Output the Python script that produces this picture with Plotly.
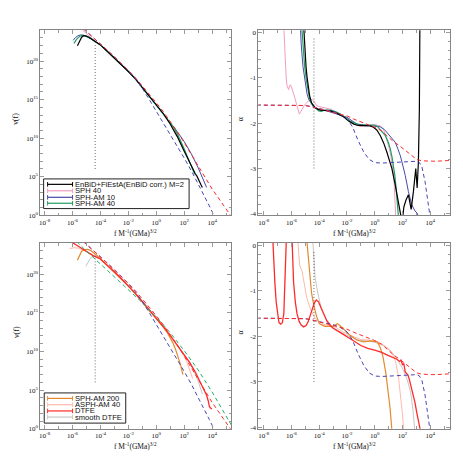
import plotly.graph_objects as go

# ── data (log10 f, log10 nu, alpha) ───────────────────────────────────────────

# model curves (dashed), the same in every panel
LF_RED_DASH = [-5.6, -5.0, -4.5, -4.0, -3.5, -3.0, -2.5, -2.0, -1.5, -1.0, -0.5, 0.0,
               0.5, 1.0, 1.5, 2.0, 2.5, 3.0, 3.5, 4.0, 4.5, 5.0, 5.4, 5.5]
NU_RED_DASH = [24.8, 23.85, 23.05, 22.25, 21.4, 20.55, 19.7, 18.8, 17.85, 16.8, 15.7, 14.6,
               13.45, 12.2, 10.85, 9.4, 7.9, 6.4, 4.9, 3.4, 2.1, 0.8, -0.25, -0.5]
LF_BLUE_DASH = [-5.6, -5.0, -4.5, -4.0, -3.5, -3.0, -2.5, -2.0, -1.5, -1.0, -0.5, 0.0,
                0.5, 1.0, 1.5, 2.0, 2.5, 3.0, 3.5, 3.8, 4.0, 4.2]
NU_BLUE_DASH = [24.8, 23.85, 23.05, 22.25, 21.4, 20.55, 19.7, 18.75, 17.7, 16.45, 15.0, 13.5,
                12.0, 10.5, 9.0, 7.4, 5.8, 4.1, 2.35, 1.2, 0.45, -0.4]

LF_RED_ALPHA = [-8.5, -6.0, -5.0, -4.5, -4.0, -3.5, -3.2, -2.5, -2.0, -1.5, -1.0, -0.5, 0.0,
                0.5, 0.99, 1.4, 1.71, 2.07, 2.43, 2.75, 3.03, 3.4, 3.8, 4.35, 5.0, 5.5]
AL_RED_ALPHA = [-1.6, -1.6, -1.61, -1.64, -1.68, -1.71, -1.73, -1.79, -1.84, -1.91, -1.97, -2.03, -2.09,
                -2.17, -2.31, -2.42, -2.48, -2.57, -2.65, -2.74, -2.8, -2.83, -2.84, -2.84, -2.83, -2.82]
LF_BLUE_ALPHA = [-8.5, -6.0, -5.0, -4.5, -4.0, -3.5, -3.0, -2.5, -2.0, -1.6, -1.2, -0.8, -0.4, 0.0,
                 0.5, 1.0, 2.0, 3.0, 3.2, 3.4, 3.63, 3.87, 4.02, 4.1]
AL_BLUE_ALPHA = [-1.6, -1.6, -1.61, -1.64, -1.68, -1.71, -1.74, -1.8, -1.9, -2.08, -2.38, -2.63, -2.8, -2.87,
                 -2.88, -2.87, -2.85, -2.84, -2.86, -2.96, -3.29, -3.73, -4.02, -4.3]

# vertical dotted marker
DOT_LF = -4.38
DOT_NU = [6.0, 22.4]
DOT_ALPHA = [-3.0, -0.1]

# top row: EnBiD / SPH runs
LF_BLACK_NU = [-5.65, -5.5, -5.35, -5.2, -5.0, -4.8, -4.6, -4.4, -4.0, -3.5, -3.0, -2.5, -2.0, -1.5,
               -1.0, -0.5, 0.0, 0.5, 1.0, 1.5, 2.0, 2.5, 2.6, 2.8, 2.9, 3.0, 3.1, 3.2, 3.3]
NU_BLACK = [22.0, 22.65, 23.1, 23.3, 23.25, 23.05, 22.8, 22.55, 22.1, 21.25, 20.4, 19.55, 18.65, 17.7,
            16.55, 15.5, 14.4, 13.2, 11.8, 10.2, 8.3, 6.4, 6.0, 5.35, 5.1, 4.65, 4.3, 3.95, 3.6]
LF_PINK_NU = [-5.45, -5.2, -5.0, -4.8, -4.6, -4.4, -4.0, -3.5, -3.0, -2.5, -2.0, -1.5, -1.0, -0.5,
              0.0, 0.5, 1.0, 1.25, 1.5, 1.7, 1.85]
NU_PINK = [24.3, 23.9, 23.6, 23.3, 23.0, 22.6, 22.1, 21.25, 20.4, 19.55, 18.65, 17.7, 16.55, 15.5,
           14.4, 13.25, 12.0, 11.35, 10.45, 9.6, 8.9]
LF_BLUE_NU = [-5.95, -5.8, -5.6, -5.4, -5.2, -5.0, -4.7, -4.4, -4.0, -3.5, -3.0, -2.5, -2.0, -1.5,
              -1.0, -0.5, 0.0, 0.5, 1.0, 1.5, 2.0, 2.5, 3.0, 3.3, 3.6]
NU_BLUE = [22.7, 23.05, 23.3, 23.4, 23.35, 23.2, 22.9, 22.55, 22.1, 21.25, 20.4, 19.55, 18.65, 17.7,
           16.55, 15.5, 14.4, 13.25, 12.05, 10.85, 9.55, 8.0, 6.15, 4.9, 3.6]
LF_GREEN_NU = [-5.9, -5.7, -5.5, -5.3, -5.1, -4.9, -4.7, -4.4, -4.0, -3.5, -3.0, -2.5, -2.0, -1.5,
               -1.0, -0.5, 0.0, 0.5, 1.0, 1.25, 1.5, 1.75, 2.0, 2.25, 2.5, 2.75]
NU_GREEN = [22.3, 22.85, 23.2, 23.35, 23.3, 23.15, 22.95, 22.55, 22.1, 21.25, 20.4, 19.55, 18.65, 17.7,
            16.55, 15.5, 14.4, 13.25, 12.05, 11.4, 10.6, 9.65, 8.6, 7.5, 6.4, 5.3]

LF_BLACK_AL = [-5.15, -5.05, -4.95, -4.88, -4.78, -4.69, -4.55, -4.45, -4.3, -4.1, -3.92, -3.6, -3.2,
               -2.8, -2.48, -2.2, -1.88, -1.5, -1.2, -0.8, -0.33, -0.09, 0.15, 0.4, 0.65, 0.88, 1.05,
               1.24, 1.48, 1.71, 1.91, 1.98, 2.1, 2.25, 2.43, 2.55, 2.63, 2.79, 2.96, 3.06, 3.15,
               3.22, 3.26]
AL_BLACK = [0.3, -0.38, -0.75, -0.97, -1.2, -1.4, -1.55, -1.6, -1.66, -1.69, -1.71, -1.72, -1.73,
            -1.77, -1.82, -1.87, -1.95, -2.02, -2.05, -2.06, -2.06, -2.09, -2.15, -2.27, -2.44, -2.64,
            -2.8, -3.0, -3.36, -3.73, -4.02, -4.2, -3.85, -3.7, -3.58, -3.75, -3.9, -3.51, -3.0,
            -3.43, -2.85, -1.7, 0.3]
LF_PINK_AL = [-6.58, -6.5, -6.44, -6.38, -6.32, -6.25, -6.2, -6.14, -6.08, -6.0, -5.89, -5.75, -5.6,
              -5.5, -5.43, -5.35, -5.24, -5.1, -5.0, -4.8, -4.64, -4.5, -4.4, -4.16, -3.8, -3.2,
              -2.48, -1.76, -1.05, -0.5, 0.0, 0.39, 0.63, 0.82, 0.99, 1.15, 1.28, 1.36, 1.42, 1.47,
              1.52, 1.55]
AL_PINK = [0.3, -0.4, -0.75, -1.0, -1.18, -1.25, -1.26, -1.18, -1.15, -1.2, -1.29, -1.45, -1.62,
           -1.74, -1.8, -1.76, -1.69, -1.62, -1.58, -1.52, -1.47, -1.48, -1.51, -1.62, -1.65, -1.69,
           -1.8, -1.98, -2.07, -2.06, -2.03, -2.06, -2.13, -2.3, -2.49, -2.7, -2.93, -3.15, -3.43, -3.7,
           -4.02, -4.3]
LF_BLUE_AL = [-5.38, -5.3, -5.17, -5.0, -4.88, -4.76, -4.6, -4.45, -4.25, -4.04, -3.44, -2.72, -2.0,
              -1.28, -0.33, 0.39, 0.7, 0.99, 1.25, 1.48, 1.65, 1.84, 2.0, 2.2, 2.43, 2.67, 2.91, 3.05,
              3.15, 3.2]
AL_BLUE = [0.3, -0.25, -0.75, -1.18, -1.35, -1.47, -1.56, -1.62, -1.66, -1.69, -1.73, -1.8, -1.87,
           -2.02, -2.06, -2.08, -2.14, -2.24, -2.33, -2.42, -2.55, -2.71, -2.9, -3.15, -3.51, -3.8, -3.94,
           -3.98, -4.05, -4.2]
LF_GREEN_AL = [-5.3, -5.17, -5.05, -4.93, -4.8, -4.69, -4.55, -4.4, -4.2, -4.04, -3.85, -3.6, -3.2,
               -2.8, -2.48, -2.1, -1.76, -1.4, -1.05, -0.5, -0.09, 0.16, 0.45, 0.76, 0.95, 1.12, 1.25,
               1.35, 1.45, 1.52, 1.6, 1.67, 1.75]
AL_GREEN = [0.3, -0.39, -0.75, -1.04, -1.3, -1.47, -1.57, -1.62, -1.68, -1.73, -1.74, -1.71, -1.71,
            -1.75, -1.8, -1.88, -1.95, -2.0, -2.04, -2.04, -2.04, -2.06, -2.15, -2.27, -2.4, -2.56,
            -2.75, -2.93, -3.15, -3.36, -3.6, -3.8, -4.2]

# bottom row: SPH-AM 200 / ASPH-AM 40 / DTFE runs
LF_GREEN_DASH = [-5.7, -5.0, -4.0, -3.0, -2.0, -1.0, 0.0, 1.0, 2.0, 3.0, 4.0, 5.0, 5.45]
NU_GREEN_DASH = [24.2, 22.95, 21.3, 19.65, 18.0, 16.3, 14.45, 12.4, 10.1, 7.6, 4.75, 1.7, 0.25]

LF_ORANGE_NU = [-5.65, -5.5, -5.35, -5.15, -4.95, -4.75, -4.5, -4.25, -4.0, -3.5, -3.0, -2.5, -2.0,
                -1.5, -1.0, -0.5, 0.0, 0.5, 0.8, 1.0, 1.2, 1.4, 1.6, 1.75, 1.9]
NU_ORANGE = [21.8, 22.5, 22.95, 23.15, 23.2, 23.1, 22.8, 22.4, 21.95, 21.1, 20.25, 19.35, 18.45,
             17.45, 16.4, 15.35, 14.3, 13.15, 12.4, 11.8, 11.05, 10.15, 9.15, 8.2, 7.0]
LF_SALMON_NU = [-6.2, -5.9, -5.6, -5.3, -5.0, -4.7, -4.4, -4.0, -3.5, -3.0, -2.5, -2.0, -1.5, -1.0,
                -0.5, 0.0, 0.5, 1.0, 1.5, 1.8, 2.0, 2.2, 2.4, 2.6]
NU_SALMON = [23.3, 23.4, 23.35, 23.15, 22.9, 22.55, 22.3, 21.95, 21.1, 20.25, 19.35, 18.45, 17.45,
             16.4, 15.35, 14.3, 13.2, 12.05, 10.85, 10.05, 9.4, 8.6, 7.6, 6.5]
LF_DTFE_NU = [-6.4, -6.0, -5.5, -5.0, -4.5, -4.0, -3.5, -3.0, -2.5, -2.0, -1.5, -1.0, -0.5, 0.0,
              0.5, 1.0, 1.5, 2.0, 2.4, 2.8, 3.1, 3.4, 3.6, 3.72, 3.8, 3.88, 3.98]
NU_DTFE = [24.4, 24.05, 23.5, 22.95, 22.35, 21.95, 21.15, 20.3, 19.4, 18.5, 17.5, 16.45, 15.4, 14.35,
           13.2, 12.05, 10.85, 9.6, 8.55, 7.3, 6.25, 5.2, 4.35, 3.6, 2.9, 2.7, 2.55]
LF_GREY_NU = [-5.05, -4.9, -4.75, -4.6, -4.45, -4.25, -4.0, -3.5, -3.0, -2.5, -2.0, -1.5, -1.0, -0.5,
              0.0, 0.5, 1.0, 1.5, 2.0, 2.4, 2.7, 3.0, 3.3]
NU_GREY = [21.0, 21.55, 21.95, 22.25, 22.35, 22.2, 21.9, 21.1, 20.25, 19.35, 18.45, 17.45, 16.4, 15.35,
           14.3, 13.2, 12.05, 10.85, 9.6, 8.5, 7.45, 6.15, 4.5]

LF_ORANGE_AL = [-4.95, -4.85, -4.7, -4.55, -4.4, -4.2, -4.0, -3.6, -3.0, -2.7, -2.5, -2.2, -1.8, -1.3,
                -0.8, -0.3, 0.0, 0.2, 0.4, 0.6, 0.8, 0.95, 1.1, 1.25]
AL_ORANGE = [0.3, 0.0, -0.6, -1.05, -1.3, -1.55, -1.72, -1.78, -1.78, -1.72, -1.76, -1.85, -1.97, -2.08,
             -2.12, -2.1, -2.12, -2.12, -2.25, -2.45, -2.8, -3.15, -3.55, -4.1]
LF_SALMON_AL = [-5.6, -5.5, -5.4, -5.25, -5.1, -4.9, -4.6, -4.3, -3.9, -3.3, -2.8, -2.3, -1.6, -1.0,
                -0.4, 0.0, 0.6, 1.0, 1.3, 1.5, 1.7, 1.85, 2.0, 2.1]
AL_SALMON = [0.3, -0.2, -0.45, -0.55, -0.8, -1.15, -1.42, -1.6, -1.72, -1.77, -1.8, -1.9, -2.0, -2.07,
             -2.08, -2.12, -2.2, -2.27, -2.38, -2.55, -2.85, -3.25, -3.7, -4.1]
LF_DTFE_AL = [-7.4, -7.3, -7.2, -7.1, -7.0, -6.9, -6.78, -6.66, -6.55, -6.47, -6.4, -6.33, -6.0, -5.93,
              -5.85, -5.72, -5.6, -5.45, -5.3, -5.12, -4.95, -4.8, -4.65, -4.5, -4.35, -4.2, -4.05,
              -3.9, -3.7, -3.45, -3.2, -3.0, -2.5, -2.0, -1.5, -1.0, -0.5, 0.0, 0.5, 1.0, 1.3, 1.6,
              1.8, 1.9, 2.0, 2.1, 2.2, 2.3, 2.4, 2.5, 2.62, 2.74, 2.9, 3.05, 3.17, 3.27, 3.35]
AL_DTFE = [0.5, -0.3, -0.8, -1.25, -1.55, -1.7, -1.73, -1.7, -1.5, -1.0, -0.35, 0.5, 0.5, -0.3,
           -0.8, -1.25, -1.5, -1.67, -1.75, -1.79, -1.76, -1.68, -1.55, -1.4, -1.26, -1.2, -1.24,
           -1.35, -1.5, -1.66, -1.76, -1.82, -1.91, -2.0, -2.1, -2.2, -2.26, -2.3, -2.35, -2.42, -2.46,
           -2.5, -2.55, -2.52, -2.62, -2.6, -2.78, -2.82, -2.85, -2.95, -3.1, -3.22, -3.45, -3.7,
           -3.86, -4.03, -4.3]
LF_GREY_AL = [-4.5, -4.4, -4.3, -4.1, -3.85, -3.5, -3.0, -2.5, -1.8, -1.1, -0.1, 0.6, 1.1, 1.55, 2.0,
              2.35, 2.6, 2.75, 2.9]
AL_GREY = [0.3, -0.2, -0.7, -1.05, -1.38, -1.62, -1.8, -1.9, -2.0, -2.08, -2.12, -2.18, -2.3, -2.47,
           -2.7, -2.95, -3.25, -3.6, -4.1]

LEGEND_TOP = ["EnBiD+FiEstA(EnBiD corr.) M=2", "SPH 40", "SPH-AM 10", "SPH-AM 40"]
LEGEND_BOTTOM = ["SPH-AM 200", "ASPH-AM 40", "DTFE", "smooth DTFE"]

X_TICK_EXP = [-8, -6, -4, -2, 0, 2, 4]
NU_TICK_EXP = [0, 5, 10, 15, 20]
ALPHA_TICKS = [0, -1, -2, -3, -4]

# ── styling ───────────────────────────────────────────────────────────────────

BLACK = "#000000"
PINK = "#F29CC3"
SLATE = "#4848A8"
GREEN = "#1E9E62"
RED = "#FF2A2A"
BLUE_DASH = "#4646B4"
GREEN_DASH = "#22B46A"
ORANGE = "#E38A2E"
SALMON = "#FFB9AA"
GREY = "#C6C6C6"
FRAME = "#858585"
TICK = "#9A9A9A"

# the page body keeps the browser's 8 px margin, so the figure is 8 px smaller
# and every pixel position below (measured on the 463 px picture) is shifted
OFF = 8
W = H = 463 - OFF
SERIF = "Liberation Serif, Times New Roman, serif"
SANS = "Liberation Sans, Arial, sans-serif"

# panel frames in picture pixels: (left, right, top, bottom)
PANELS = {
    "tl": (39.5, 230.5, 29.5, 216.5),
    "tr": (258.0, 450.0, 29.5, 216.5),
    "bl": (39.5, 230.5, 244.7, 432.5),
    "br": (258.0, 450.0, 244.7, 432.5),
}
AX = {"tl": ("x", "y"), "tr": ("x2", "y2"), "bl": ("x3", "y3"), "br": ("x4", "y4")}


def px(x):
    return (x - OFF) / W


def py(y):
    return 1 - (y - OFF) / H


def pw(v):
    return [10.0 ** e for e in v]


fig = go.Figure()


def add(panel, lf, vals, color, width=1.0, dash="solid", log_y=True):
    xa, ya = AX[panel]
    fig.add_trace(go.Scatter(
        x=pw(lf), y=pw(vals) if log_y else vals,
        mode="lines", line=dict(color=color, width=width, dash=dash),
        xaxis=xa, yaxis=ya, showlegend=False, hoverinfo="skip",
    ))


DASH = "4px,3px"
DOT = "1px,2px"
DOT_COLOR = "#444444"

# top-left: nu(f)
add("tl", LF_PINK_NU, NU_PINK, PINK, 1.0)
add("tl", LF_BLUE_NU, NU_BLUE, SLATE, 1.0)
add("tl", LF_GREEN_NU, NU_GREEN, GREEN, 1.2)
add("tl", LF_BLACK_NU, NU_BLACK, BLACK, 1.2)
add("tl", LF_BLUE_DASH, NU_BLUE_DASH, BLUE_DASH, 1.0, DASH)
add("tl", LF_RED_DASH, NU_RED_DASH, RED, 1.0, DASH)
add("tl", [DOT_LF, DOT_LF], DOT_NU, DOT_COLOR, 0.8, DOT)

# top-right: alpha
add("tr", LF_PINK_AL, AL_PINK, PINK, 1.0, log_y=False)
add("tr", LF_BLUE_AL, AL_BLUE, SLATE, 1.0, log_y=False)
add("tr", LF_GREEN_AL, AL_GREEN, GREEN, 1.2, log_y=False)
add("tr", LF_BLACK_AL, AL_BLACK, BLACK, 1.2, log_y=False)
add("tr", LF_BLUE_ALPHA, AL_BLUE_ALPHA, BLUE_DASH, 1.0, DASH, log_y=False)
add("tr", LF_RED_ALPHA, AL_RED_ALPHA, RED, 1.0, DASH, log_y=False)
add("tr", [DOT_LF, DOT_LF], DOT_ALPHA, DOT_COLOR, 0.8, DOT, log_y=False)

# bottom-left: nu(f)
add("bl", LF_GREY_NU, NU_GREY, GREY, 1.0)
add("bl", LF_SALMON_NU, NU_SALMON, SALMON, 1.0)
add("bl", LF_ORANGE_NU, NU_ORANGE, ORANGE, 1.2)
add("bl", LF_DTFE_NU, NU_DTFE, RED, 1.3)
add("bl", LF_GREEN_DASH, NU_GREEN_DASH, GREEN_DASH, 1.0, DASH)
add("bl", LF_BLUE_DASH, NU_BLUE_DASH, BLUE_DASH, 1.0, DASH)
add("bl", LF_RED_DASH, NU_RED_DASH, RED, 1.0, DASH)
add("bl", [DOT_LF, DOT_LF], DOT_NU, DOT_COLOR, 0.8, DOT)

# bottom-right: alpha
add("br", LF_GREY_AL, AL_GREY, GREY, 1.0, log_y=False)
add("br", LF_SALMON_AL, AL_SALMON, SALMON, 1.0, log_y=False)
add("br", LF_ORANGE_AL, AL_ORANGE, ORANGE, 1.2, log_y=False)
add("br", LF_DTFE_AL, AL_DTFE, RED, 1.3, log_y=False)
add("br", LF_BLUE_ALPHA, AL_BLUE_ALPHA, BLUE_DASH, 1.0, DASH, log_y=False)
add("br", LF_RED_ALPHA, AL_RED_ALPHA, RED, 1.0, DASH, log_y=False)
add("br", [DOT_LF, DOT_LF], DOT_ALPHA, DOT_COLOR, 0.8, DOT, log_y=False)

# ── axes ──────────────────────────────────────────────────────────────────────

def sup(e):
    return f"10<sup>{e}</sup>"


common = dict(
    showline=True, linecolor=FRAME, linewidth=1, mirror="allticks",
    ticks="inside", ticklen=4, tickcolor=TICK, tickwidth=1,
    showgrid=False, zeroline=False,
    tickfont=dict(family=SERIF, size=7, color="#111111"),
)
minor_common = dict(ticks="inside", ticklen=2.5, tickcolor=TICK, tickwidth=1)

layout = dict(
    width=W, height=H, paper_bgcolor="white", plot_bgcolor="white",
    margin=dict(l=0, r=0, t=0, b=0), showlegend=False,
)

for key, (xa, ya) in AX.items():
    l, r, t, b = PANELS[key]
    xr = [-8.3, 5.35] if key in ("tl", "bl") else [-8.38, 5.43]
    xname = "xaxis" + xa[1:]
    yname = "yaxis" + ya[1:]
    layout[xname] = dict(
        common, type="log", domain=[px(l), px(r)], range=xr, anchor=ya,
        tickmode="array", tickvals=pw(X_TICK_EXP), ticktext=[sup(e) for e in X_TICK_EXP],
        minor=dict(minor_common,
                   tickvals=pw([e for e in range(-8, 6) if e not in X_TICK_EXP])),
    )
    if key in ("tl", "bl"):
        layout[yname] = dict(
            common, type="log", domain=[py(b), py(t)], range=[0, 24], anchor=xa,
            tickmode="array", tickvals=pw(NU_TICK_EXP), ticktext=[sup(e) for e in NU_TICK_EXP],
            minor=dict(minor_common,
                       tickvals=pw([e for e in range(0, 25) if e not in NU_TICK_EXP])),
        )
    else:
        layout[yname] = dict(
            common, domain=[py(b), py(t)], range=[-4.03, 0.05], anchor=xa,
            tickmode="array", tickvals=ALPHA_TICKS, ticktext=[str(v) for v in ALPHA_TICKS],
            minor=dict(minor_common, dtick=0.2),
        )

fig.update_layout(**layout)

# ── axis titles ───────────────────────────────────────────────────────────────

XT = "f M<sup>-1</sup>(GMa)<sup>3/2</sup>"
ann = []
for key in PANELS:
    l, r, t, b = PANELS[key]
    ann.append(dict(x=px((l + r) / 2), y=py(b + 17.5), text=XT, showarrow=False,
                    xanchor="center", yanchor="middle",
                    xref="paper", yref="paper", font=dict(family=SERIF, size=7.5, color="#111111")))
    ytitle = "ν(f)" if key in ("tl", "bl") else "α"
    yx = 15 if key in ("tl", "bl") else 240
    ann.append(dict(x=px(yx), y=py((t + b) / 2 - 4), text=ytitle, textangle=-90, showarrow=False,
                    xanchor="center", yanchor="middle",
                    xref="paper", yref="paper", font=dict(family=SERIF, size=8, color="#111111")))

# ── hand-made legends (plotly's own legend rows are too tall at this size) ────

shapes = []


def legend_box(x0, x1, y0, y1, rows, labels, colors):
    shapes.append(dict(type="rect", xref="paper", yref="paper", x0=px(x0), x1=px(x1),
                       y0=py(y1), y1=py(y0), line=dict(color="#222222", width=1),
                       fillcolor="white", layer="above"))
    for yy, lab, col in zip(rows, labels, colors):
        shapes.append(dict(type="line", xref="paper", yref="paper", x0=px(46.7), x1=px(71.7),
                           y0=py(yy), y1=py(yy), line=dict(color=col, width=1.2), layer="above"))
        for xx in (46.7, 71.7):
            shapes.append(dict(type="line", xref="paper", yref="paper", x0=px(xx), x1=px(xx),
                               y0=py(yy - 2.3), y1=py(yy + 2.3), line=dict(color=col, width=1),
                               layer="above"))
        ann.append(dict(x=px(73.5), y=py(yy), text=lab, showarrow=False, xanchor="left",
                        yanchor="middle", xref="paper", yref="paper", borderpad=0,
                        font=dict(family=SANS, size=7.6, color="#111111")))


legend_box(42.7, 188.5, 179.8, 209.8, [185.3, 191.8, 198.4, 204.4], LEGEND_TOP,
           [BLACK, PINK, SLATE, GREEN])
legend_box(43.3, 125, 396.2, 426.7, [401.7, 408.1, 414.4, 420.6], LEGEND_BOTTOM,
           [ORANGE, SALMON, RED, GREY])

fig.update_layout(annotations=ann, shapes=shapes)

fig.write_html("out.html")
